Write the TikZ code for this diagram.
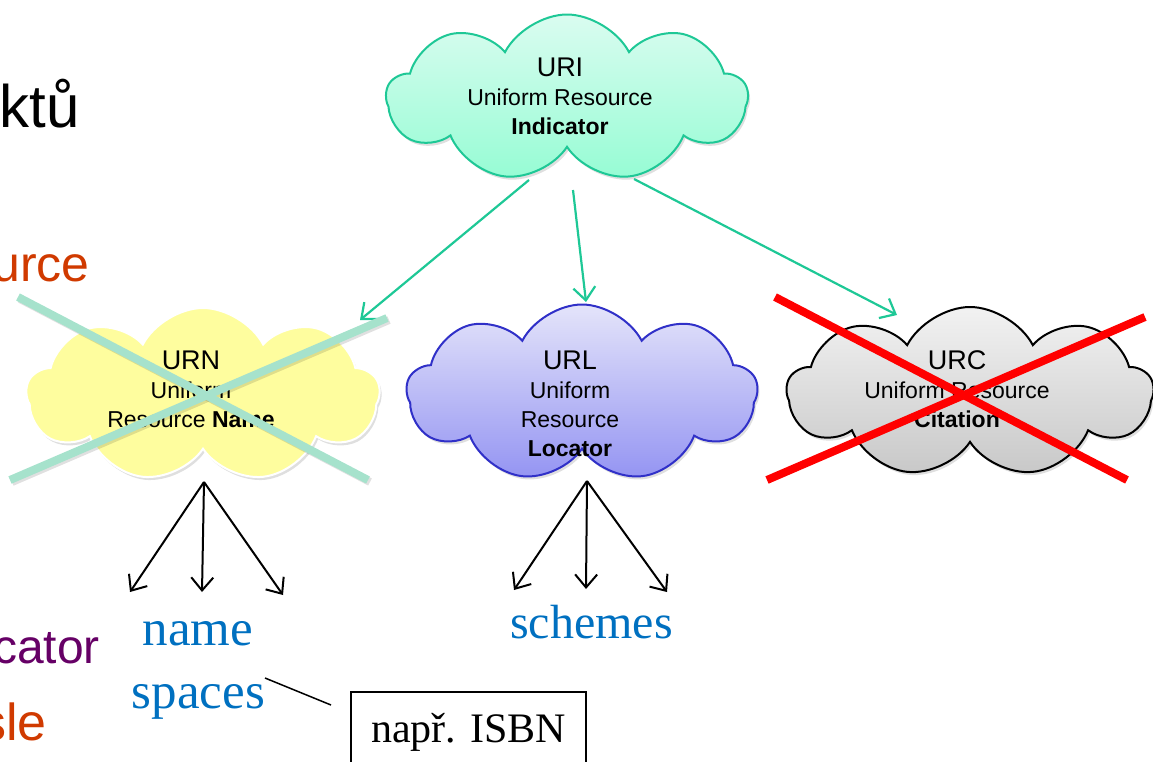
\documentclass[tikz,border=0pt]{standalone}
\usepackage{fontspec}
\setmainfont{Liberation Sans}
\newfontfamily\seriffont{Liberation Serif}
\usetikzlibrary{shapes.symbols,arrows.meta,shadows}
\definecolor{urigreen}{RGB}{30,200,150}
\definecolor{uritop}{RGB}{218,252,240}
\definecolor{uribot}{RGB}{150,252,212}
\definecolor{urnfill}{RGB}{254,253,158}
\definecolor{urltop}{RGB}{228,228,250}
\definecolor{urlbot}{RGB}{148,148,242}
\definecolor{urlborder}{RGB}{48,48,200}
\definecolor{urctop}{RGB}{242,242,242}
\definecolor{urcbot}{RGB}{200,200,200}
\definecolor{crossgreen}{RGB}{166,226,204}
\definecolor{textblue}{RGB}{0,112,192}
\definecolor{orangered}{RGB}{208,58,0}
\definecolor{darkpurple}{RGB}{102,0,102}
\tikzset{
  cloudbox/.style={cloud, cloud puffs=9, cloud puff arc=125, cloud ignores aspect,
    inner sep=0pt, line width=2pt,
    drop shadow={shadow xshift=2pt, shadow yshift=-3pt, opacity=0.25}},
  ctext/.style={align=center, inner sep=0pt, font=\fontsize{23}{29}\selectfont},
  greenarrow/.style={draw=urigreen, line width=2.2pt,
    -{Straight Barb[length=13pt,width=22pt]}},
  blackarrow/.style={draw=black, line width=2pt,
    -{Straight Barb[length=13pt,width=22pt]}},
  serifblue/.style={text=textblue, inner sep=0pt, anchor=base,
    font=\seriffont\fontsize{51}{63}\selectfont},
  sidetext/.style={inner sep=0pt, anchor=base east},
  crossline/.style={line width=8pt},
}
\begin{document}
\begin{tikzpicture}[x=1pt,y=-1pt]
\useasboundingbox (0,0) rectangle (1153,761);
\clip (0,0) rectangle (1153,761);

% left side partial texts (cut by the picture's edge, as in the reference)
\node[sidetext, font=\fontsize{60}{70}\selectfont] (t1) at (80,127) {ktů};
\node[sidetext, text=orangered, font=\fontsize{50}{60}\selectfont] (t2) at (90,281) {urce};
\node[sidetext, text=darkpurple, font=\fontsize{48}{58}\selectfont] (t3) at (100,663) {cator};
\node[sidetext, text=orangered, font=\fontsize{52}{62}\selectfont] (t4) at (47,740) {sle};

% clouds
\node[cloudbox, minimum width=361pt, minimum height=167pt, top color=uritop, bottom color=uribot, draw=urigreen] (uri) at (567,98) {};
\node[cloudbox, minimum width=353pt, minimum height=174pt, fill=urnfill, draw=white] (urn) at (203,395) {};
\node[cloudbox, minimum width=351pt, minimum height=177pt, top color=urltop, bottom color=urlbot, draw=urlborder] (url) at (582,393) {};
\node[cloudbox, minimum width=366pt, minimum height=170pt, top color=urctop, bottom color=urcbot, draw=black] (urc) at (970,392) {};

% cloud texts
\node[ctext, anchor=north] (uritext) at (560,57.7) {{\fontsize{27}{29}\selectfont URI}\\Uniform Resource\\\textbf{Indicator}};
\node[ctext, anchor=north] (urntext) at (191,350.7) {{\fontsize{27}{29}\selectfont URN}\\Uniform\\Resource \textbf{Name}};
\node[ctext, anchor=north] (urltext) at (570,350.7) {{\fontsize{27}{29}\selectfont URL}\\Uniform\\Resource\\\textbf{Locator}};
\node[ctext, anchor=north] (urctext) at (957,350.7) {{\fontsize{27}{29}\selectfont URC}\\Uniform Resource\\\textbf{Citation}};

% green arrows from URI
\coordinate (g1s) at (529,180);
\coordinate (g2s) at (573,190);
\coordinate (g3s) at (634,179);
\coordinate (g1e) at (360,320);
\coordinate (g2e) at (586,302);
\coordinate (g3e) at (897,315);
\draw[greenarrow] (g1s) -- (g1e);
\draw[greenarrow] (g2s) -- (g2e);
\draw[greenarrow] (g3s) -- (g3e);

% crosses
\coordinate (x1a) at (18,297);
\coordinate (x1b) at (368,480);
\coordinate (x2a) at (387,318);
\coordinate (x2b) at (10,480);
\draw[crossline, draw=black, opacity=0.12] ([xshift=2pt,yshift=-2pt]x1a) -- ([xshift=2pt,yshift=-2pt]x1b);
\draw[crossline, draw=black, opacity=0.12] ([xshift=2pt,yshift=-2pt]x2a) -- ([xshift=2pt,yshift=-2pt]x2b);
\draw[crossline, draw=crossgreen] (x1a) -- (x1b);
\draw[crossline, draw=crossgreen] (x2a) -- (x2b);

\coordinate (r1a) at (775,297);
\coordinate (r1b) at (1127,480);
\coordinate (r2a) at (1145,317);
\coordinate (r2b) at (767,480);
\draw[crossline, draw=red] (r1a) -- (r1b);
\draw[crossline, draw=red] (r2a) -- (r2b);

% black arrows
\coordinate (urnb) at (204,482);
\coordinate (n1) at (130,592);
\coordinate (n2) at (202,592);
\coordinate (n3) at (283,595);
\draw[blackarrow] (urnb) -- (n1);
\draw[blackarrow] (urnb) -- (n2);
\draw[blackarrow] (urnb) -- (n3);
\coordinate (urlb) at (587,481);
\coordinate (s1) at (514,590);
\coordinate (s2) at (586,589);
\coordinate (s3) at (667,592);
\draw[blackarrow] (urlb) -- (s1);
\draw[blackarrow] (urlb) -- (s2);
\draw[blackarrow] (urlb) -- (s3);

% bottom labels
\node[serifblue] (name) at (198,645) {name};
\node[serifblue] (spaces) at (198.5,708) {spaces};
\node[serifblue, font=\seriffont\fontsize{48}{58}\selectfont] (schemes) at (591.5,638) {schemes};

\node[draw=black, line width=1.5pt, minimum width=235pt, minimum height=80pt,
  text height=30pt, text depth=10pt, inner sep=0pt,
  font=\seriffont\fontsize{42}{50}\selectfont] (isbn) at (468.5,732) {např. ISBN};
\coordinate (c1) at (265,678);
\coordinate (c2) at (331,705);
\draw[line width=1.5pt] (c1) -- (c2);
\end{tikzpicture}
\end{document}
